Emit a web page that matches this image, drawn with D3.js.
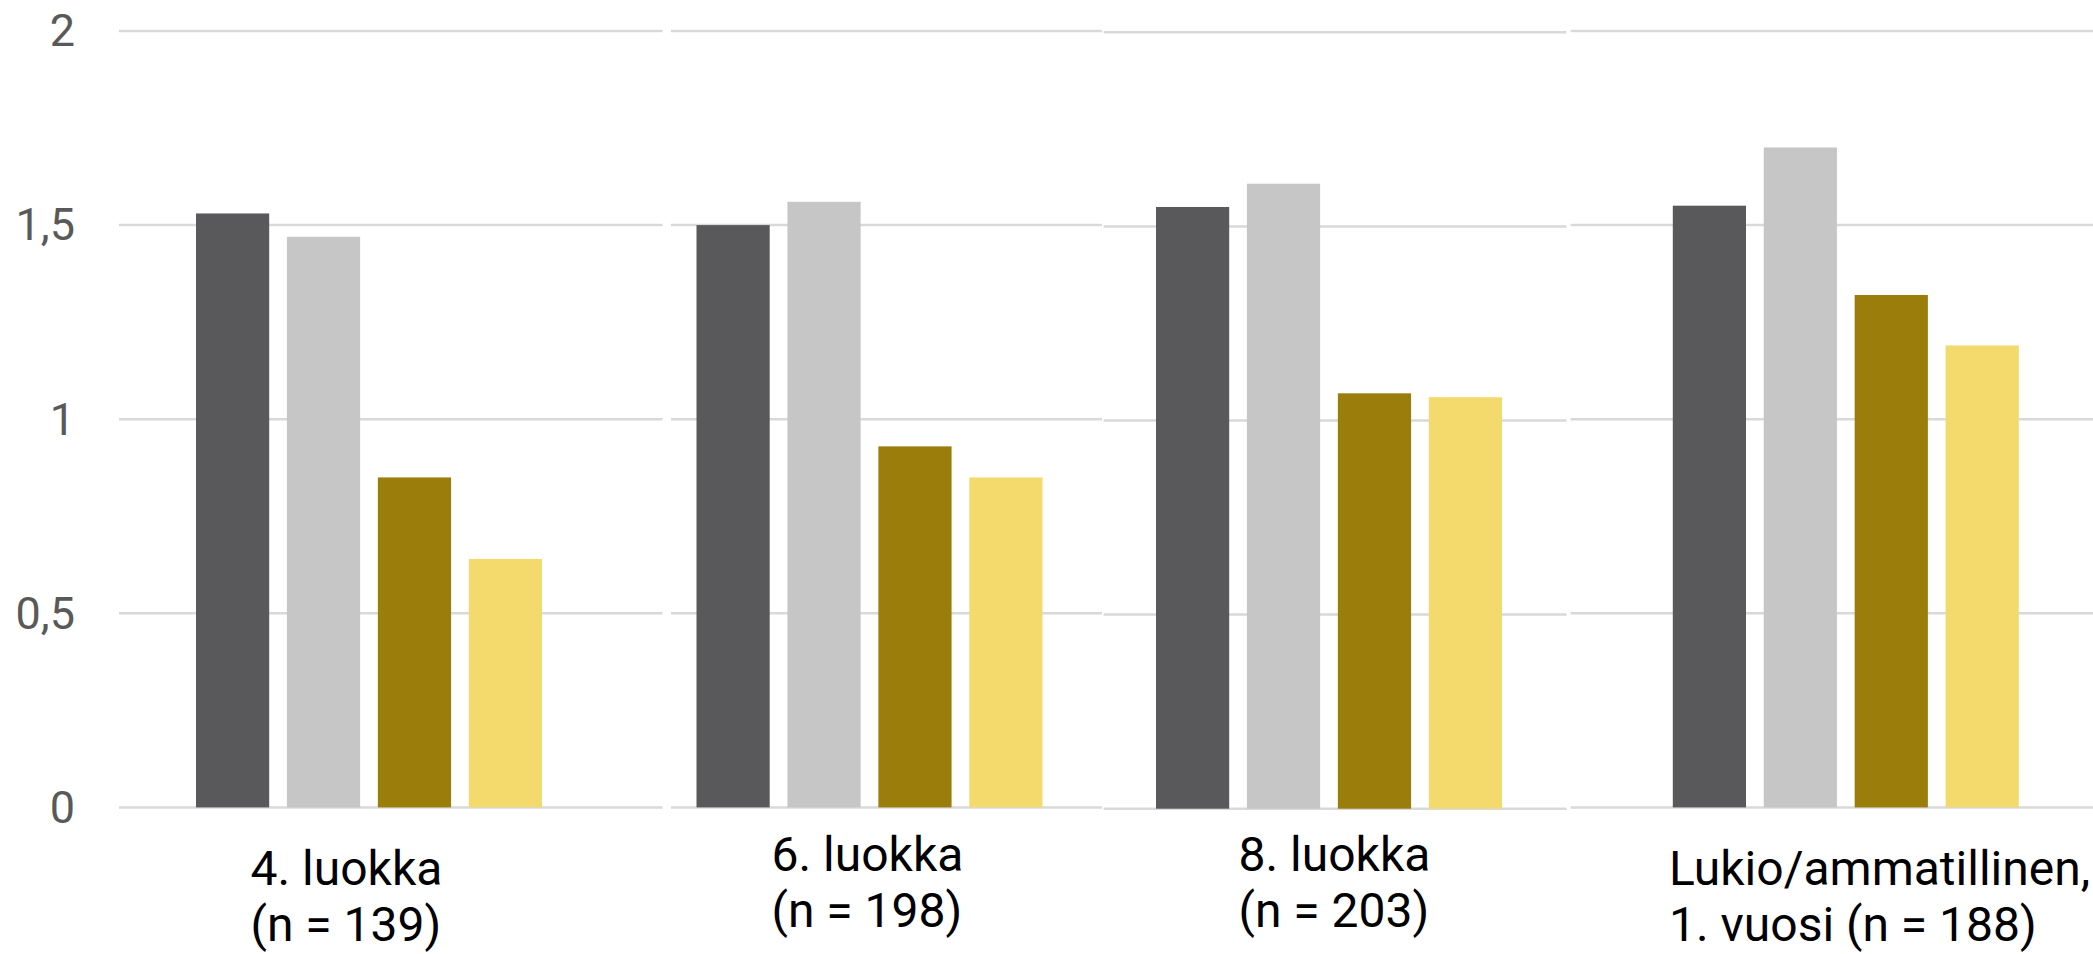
<!DOCTYPE html>
<html>
<head>
<meta charset="utf-8">
<script src="https://cdn.jsdelivr.net/npm/d3@7"></script>
<style>
  html, body { margin: 0; padding: 0; background: #ffffff; }
  svg { display: block; }
</style>
</head>
<body>
<svg id="chart" width="2093" height="954"></svg>
<script>
// ---------- data ----------
const categories = ["4. luokka", "6. luokka", "8. luokka", "Lukio/ammatillinen, 1. vuosi"];
const categoryLines = [
  ["4. luokka", "(n = 139)"],
  ["6. luokka", "(n = 198)"],
  ["8. luokka", "(n = 203)"],
  ["Lukio/ammatillinen,", "1. vuosi (n = 188)"]
];
const seriesNames = ["Sarja 1", "Sarja 2", "Sarja 3", "Sarja 4"];
const series1 = [1.53, 1.50, 1.55, 1.55];
const series2 = [1.47, 1.56, 1.61, 1.70];
const series3 = [0.85, 0.93, 1.07, 1.32];
const series4 = [0.64, 0.85, 1.06, 1.19];
const yTicks = [0, 0.5, 1, 1.5, 2];

// ---------- layout / style ----------
const W = 2093, H = 954;
const seriesColors = ["#59595b", "#c6c6c6", "#9a7d0a", "#f4da6c"];
const groupStart = [196, 696.5, 1156, 1672.8];      // left edge of each bar group
const groupWidth = 346;
const panelExtent = [[119, 662.5], [671, 1102], [1103.6, 1566.5], [1570.5, 2093]];
const panelDy = [0, 0, 1.3, 0];
const labelX = [250.5, 771.5, 1238.5, 1669];
const labelBaseline = [885, 871, 871, 885];
const lineGap = 56;

const svg = d3.select("#chart");
const allSeries = [series1, series2, series3, series4];

const y = d3.scaleLinear().domain([0, 2]).range([807.4, 31]);
const groupX = d3.scaleOrdinal().domain(categories).range(groupStart);
const innerX = d3.scaleBand().domain(seriesNames).range([0, groupWidth]).paddingInner(0.195).paddingOuter(0);

const fmt = d3.formatLocale({ decimal: ",", thousands: "\u00a0", grouping: [3], currency: ["", "€"] }).format("~g");

// gridlines per panel
const grid = svg.append("g");
panelExtent.forEach((ext, i) => {
  grid.selectAll(null)
    .data(yTicks)
    .enter().append("line")
    .attr("x1", ext[0]).attr("x2", ext[1])
    .attr("y1", d => y(d) + panelDy[i]).attr("y2", d => y(d) + panelDy[i])
    .attr("stroke", "#d9d9d9")
    .attr("stroke-width", 2.5);
});

// y axis labels
const yAxis = d3.axisLeft(y).tickValues(yTicks).tickFormat(fmt).tickSize(0).tickPadding(0);
const ya = svg.append("g").attr("transform", "translate(75,0)").call(yAxis);
ya.select(".domain").remove();
ya.selectAll("text")
  .attr("font-family", "Roboto, 'Noto Sans', sans-serif")
  .attr("font-size", 45)
  .attr("fill", "#595959")
  .attr("dy", "0.33em");

// bars
const rows = [];
categories.forEach((c, ci) => {
  seriesNames.forEach((s, si) => {
    rows.push({ cat: c, ci: ci, ser: s, si: si, value: allSeries[si][ci] });
  });
});

svg.append("g").selectAll("rect")
  .data(rows)
  .enter().append("rect")
  .attr("x", d => groupX(d.cat) + innerX(d.ser))
  .attr("width", innerX.bandwidth())
  .attr("y", d => y(d.value) + panelDy[d.ci])
  .attr("height", d => y(0) - y(d.value))
  .attr("fill", d => seriesColors[d.si]);

// category labels
const lab = svg.append("g")
  .attr("font-family", "Roboto, 'Noto Sans', sans-serif")
  .attr("font-size", 48)
  .attr("fill", "#000000");
categoryLines.forEach((lines, i) => {
  const t = lab.append("text").attr("x", labelX[i]).attr("y", labelBaseline[i]);
  lines.forEach((ln, k) => {
    t.append("tspan").attr("x", labelX[i]).attr("dy", k === 0 ? 0 : lineGap).text(ln);
  });
});
</script>
</body>
</html>
